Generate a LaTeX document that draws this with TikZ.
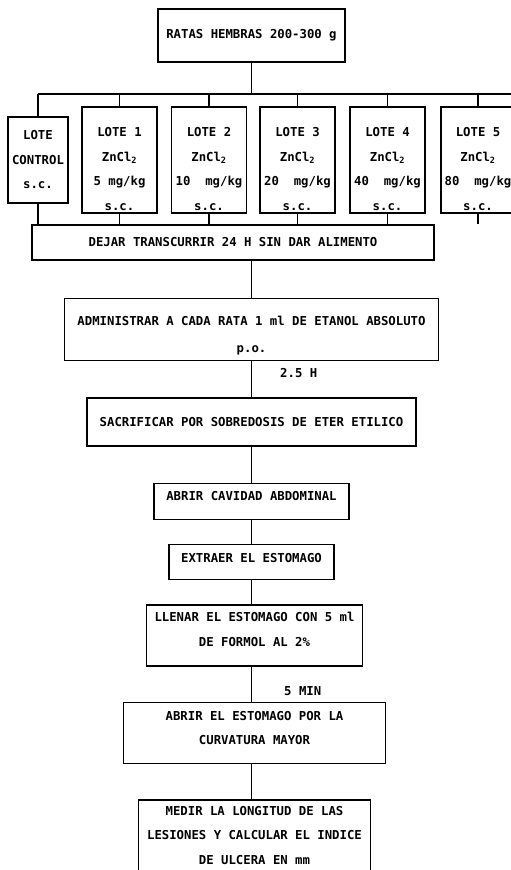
\documentclass[tikz,border=0pt]{standalone}
\usepackage{fontspec}
\newfontfamily\dotfont{DejaVu Sans Mono}
\usetikzlibrary{positioning, calc}
% struts to move a box text down (#1 extra height) or up (#1 extra depth)
\newcommand\padtop[1]{\rule{0pt}{#1}}
\newcommand\padbot[1]{\rule[-#1]{0pt}{#1}}

\begin{document}
\begin{tikzpicture}[
  x=1pt, y=-1pt,
  box/.style={draw, line width=1.4pt, inner sep=2pt, align=center,
              font=\dotfont\bfseries\fontsize{12.3}{24.5}\selectfont},
  lote/.style={box, minimum width=75pt, minimum height=106pt},
  lbl/.style={inner sep=0pt, font=\dotfont\bfseries\fontsize{12.3}{15}\selectfont},
  conn/.style={line width=1.4pt}
]
\useasboundingbox (0,0) rectangle (511,870);

% Rats
\node[box, minimum width=187pt, minimum height=53pt] (top) at (251.5,35.5)
    {RATAS HEMBRAS 200-300 g};

% Groups
\node[box, minimum width=60pt, minimum height=86pt] (ctl) at (38,160)
    {LOTE\\CONTROL\\s.c.};
\node[lote] (l1) at (119.5,160) {\padtop{27pt}LOTE 1\\ZnCl\textsubscript{2}\\5 mg/kg\\s.c.};
\node[lote] (l2) at (209,160) {\padtop{27pt}LOTE 2\\ZnCl\textsubscript{2}\\10~~mg/kg\\s.c.};
\node[lote] (l3) at (297.5,160) {\padtop{27pt}LOTE 3\\ZnCl\textsubscript{2}\\20~~mg/kg\\s.c.};
\node[lote] (l4) at (387.5,160) {\padtop{27pt}LOTE 4\\ZnCl\textsubscript{2}\\40~~mg/kg\\s.c.};
\node[lote, minimum width=74pt] (l5) at (478,160) {\padtop{27pt}LOTE 5\\ZnCl\textsubscript{2}\\80~~mg/kg\\s.c.};

% Fasting
\node[box, minimum width=402pt, minimum height=35pt] (dejar) at (233,242.5)
    {DEJAR TRANSCURRIR 24 H SIN DAR ALIMENTO};

% Tree top -> groups
\coordinate (bar) at (0,94);
\draw[conn] (top.south) -- (top.south |- bar);
\draw[conn] (ctl.north |- bar) -- (l5.north east |- bar);
\foreach \g in {ctl, l1, l2, l3, l4, l5} {
  \draw[conn] (\g.north |- bar) -- (\g.north);
  \draw[conn] (\g.south) -- (\g.south |- dejar.north);
}

% Procedure
\coordinate (c) at (top.south |- dejar.south);
\node[box, minimum width=374pt, minimum height=62pt, below=37pt of c] (admin)
    {\padtop{22pt}ADMINISTRAR A CADA RATA 1 ml DE ETANOL ABSOLUTO\\[2.5pt]p.o.};
\node[box, minimum width=329pt, minimum height=48pt, below=36pt of admin] (sacr)
    {SACRIFICAR POR SOBREDOSIS DE ETER ETILICO};
\node[box, minimum width=195pt, minimum height=36pt, below=36pt of sacr] (cav)
    {ABRIR CAVIDAD ABDOMINAL\padbot{10pt}};
\node[box, minimum width=165pt, minimum height=35pt, below=24pt of cav] (extr)
    {EXTRAER EL ESTOMAGO\padbot{8pt}};
\node[box, minimum width=216pt, minimum height=61pt, below=24pt of extr, xshift=3pt] (llenar)
    {LLENAR EL ESTOMAGO CON 5 ml\\DE FORMOL AL 2\%\padbot{12pt}};
\node[box, minimum width=262pt, minimum height=61pt, below=35pt of llenar] (abrir)
    {ABRIR EL ESTOMAGO POR LA\\CURVATURA MAYOR\padbot{10pt}};
\node[box, minimum width=232pt, minimum height=71pt, below=35pt of abrir] (medir)
    {MEDIR LA LONGITUD DE LAS\\LESIONES Y CALCULAR EL INDICE\\DE ULCERA EN mm};

\draw[conn] (admin.north |- dejar.south) -- (admin.north);
\draw[conn] (admin.south) -- (sacr.north)
    node[pos=0.32, right=28pt, lbl] {2.5 H};
\draw[conn] (sacr.south) -- (cav.north);
\draw[conn] (cav.south) -- (extr.north);
\draw[conn] (extr.south) -- (extr.south |- llenar.north);
\draw[conn] (extr.south |- llenar.south) -- (extr.south |- abrir.north)
    node[pos=0.69, right=32pt, lbl] {5 MIN};
\draw[conn] (extr.south |- abrir.south) -- (extr.south |- medir.north);
\end{tikzpicture}
\end{document}
